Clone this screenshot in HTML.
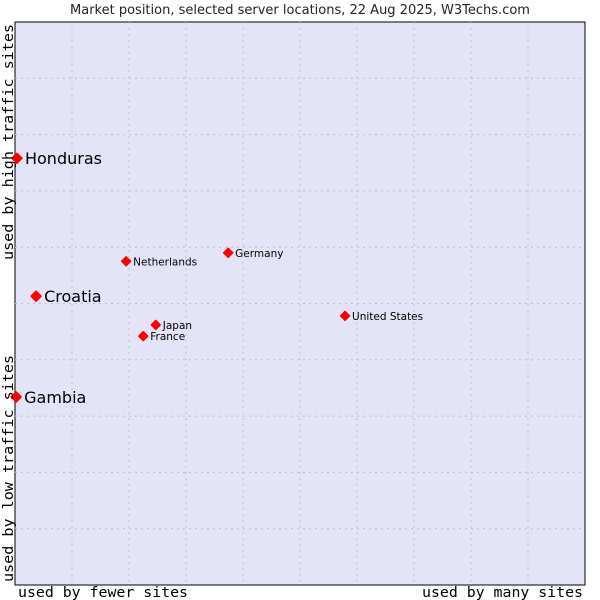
<!DOCTYPE html>
<html><head><meta charset="utf-8"><style>
body{margin:0;background:#fff;}
svg{display:block;font-family:"DejaVu Sans","Liberation Sans",sans-serif;}
.mono{font-family:"DejaVu Sans Mono","Liberation Mono",monospace;}
</style></head><body>
<svg id="chart" width="600" height="600">
<text x="300" y="14" text-anchor="middle" font-size="13" fill="#222">Market position, selected server locations, 22 Aug 2025, W3Techs.com</text>
<rect x="15" y="22" width="570" height="563" fill="#e3e4f8" stroke="#000" stroke-width="1"/>
<g id="grid"></g>
<g id="points"></g>
<text class="mono" x="18" y="597" font-size="14" textLength="170" lengthAdjust="spacingAndGlyphs" fill="#000">used by fewer sites</text>
<text class="mono" x="422" y="597" font-size="14" textLength="161" lengthAdjust="spacingAndGlyphs" fill="#000">used by many sites</text>
<text class="mono" transform="translate(13,582) rotate(-90)" font-size="14" textLength="227" lengthAdjust="spacingAndGlyphs" fill="#000">used by low traffic sites</text>
<text class="mono" transform="translate(13,260) rotate(-90)" font-size="14" textLength="236" lengthAdjust="spacingAndGlyphs" fill="#000">used by high traffic sites</text>
</svg>
<script>
const countries=["Honduras","Croatia","Gambia","Netherlands","Germany","United States","Japan","France"];
const xValues=[0.35,3.7,0.2,19.5,37.4,57.9,24.7,22.5];
const yValues=[75.8,51.3,33.4,57.5,59.0,47.8,46.2,44.2];
const highlighted=[true,true,true,false,false,false,false,false];
const NS="http://www.w3.org/2000/svg";
const L=15,R=585,T=22,B=585;
const sx=v=>L+v/100*(R-L);
const sy=v=>B-v/100*(B-T);
const grid=document.getElementById('grid');
for(let i=1;i<10;i++){
 const x=L+i*(R-L)/10;
 const l=document.createElementNS(NS,'line');
 
 
 l.setAttribute('x1',x);l.setAttribute('x2',x);l.setAttribute('y1',T);l.setAttribute('y2',B);
 l.setAttribute('stroke','#c0c0c8');l.setAttribute('stroke-dasharray','2,4');
 grid.appendChild(l);
 const y=T+i*(B-T)/10;
 const h=document.createElementNS(NS,'line');
 
 
 h.setAttribute('x1',L);h.setAttribute('x2',R);h.setAttribute('y1',y);h.setAttribute('y2',y);
 h.setAttribute('stroke','#c0c0c8');h.setAttribute('stroke-dasharray','2,4');
 grid.appendChild(h);
}
const pts=document.getElementById('points');
countries.forEach((c,i)=>{
 const x=sx(xValues[i]),y=sy(yValues[i]);
 const big=highlighted[i];
 const r=big?5:4.5;
 const d=document.createElementNS(NS,'path');
 
 
 d.setAttribute('d',`M${x} ${y-r}L${x+r} ${y}L${x} ${y+r}L${x-r} ${y}Z`);
 d.setAttribute('fill','#f00');
 d.setAttribute('stroke','#f00');d.setAttribute('stroke-linejoin','round');d.setAttribute('stroke-width','1.5');
 pts.appendChild(d);
 const t=document.createElementNS(NS,'text');
 
 
 t.setAttribute('x',x+(big?8:7));t.setAttribute('y',y+(big?6:4));
 t.setAttribute('font-size',big?'16':'10.5');t.setAttribute('fill','#000');
 t.textContent=c;
 pts.appendChild(t);
});
</script>
</body></html>
